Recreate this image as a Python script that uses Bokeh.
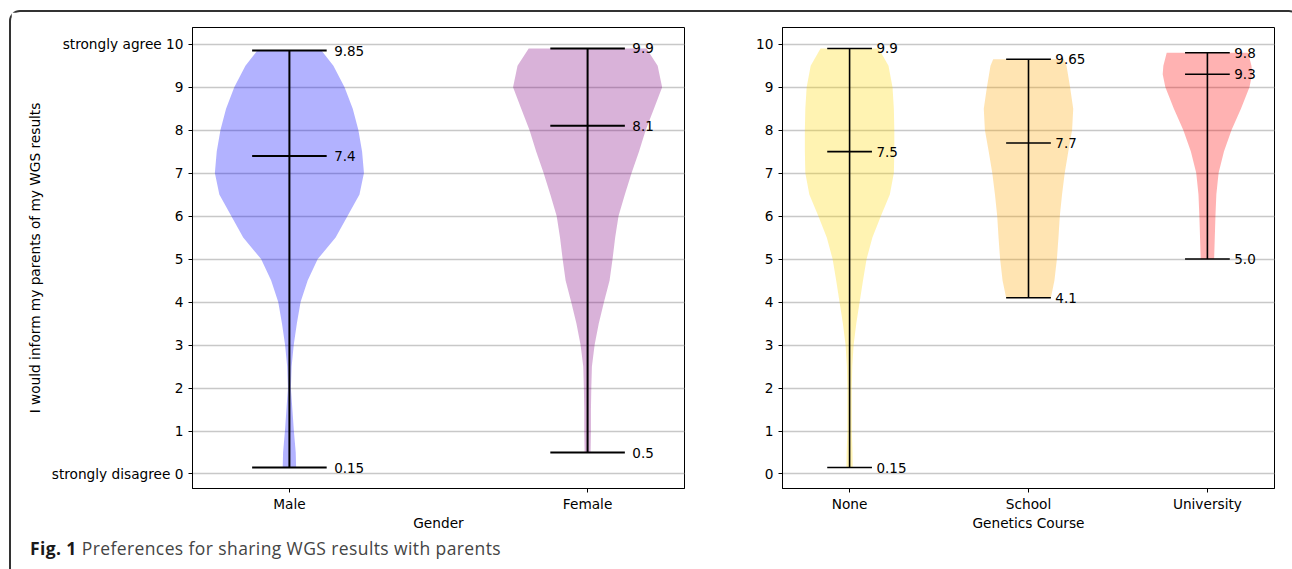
from bokeh.plotting import figure
from bokeh.models import FixedTicker, Range1d, Div
from bokeh.layouts import row, column
from bokeh.core.properties import value
from bokeh.embed import file_html
from bokeh.resources import INLINE

# ---------------- data ----------------
gender_groups = ["Male", "Female"]
gender_max = [9.85, 9.9]
gender_mid = [7.4, 8.1]
gender_min = [0.15, 0.5]
gender_colors = ["blue", "purple"]

course_groups = ["None", "School", "University"]
course_max = [9.9, 9.65, 9.8]
course_mid = [7.5, 7.7, 9.3]
course_min = [0.15, 4.1, 5.0]
course_colors = ["gold", "orange", "red"]

# violin density profiles (relative width, 1 = widest)
male_y = [0.15, 0.5, 1, 1.5, 2, 2.5, 3, 3.5, 4, 4.5, 5, 5.5, 6, 6.5, 7, 7.5, 8, 8.5, 9, 9.5, 9.85]
male_w = [0.09, 0.085, 0.06, 0.04, 0.02, 0.03, 0.058, 0.1, 0.15, 0.245, 0.38, 0.62, 0.78, 0.94, 1.0, 0.975, 0.925, 0.85, 0.74, 0.59, 0.43]
female_y = [0.5, 1, 1.5, 2, 2.5, 3, 3.5, 4, 4.5, 5, 5.5, 6, 6.5, 7, 7.5, 8, 8.5, 9, 9.5, 9.9]
female_w = [0.04, 0.045, 0.045, 0.05, 0.058, 0.094, 0.15, 0.22, 0.295, 0.335, 0.37, 0.415, 0.5, 0.59, 0.69, 0.78, 0.89, 1.0, 0.94, 0.79]
none_y = [0.15, 0.5, 1, 1.5, 2, 2.5, 3, 3.5, 4, 4.5, 5, 5.5, 6, 6.5, 7, 7.5, 8, 8.5, 9, 9.5, 9.9]
none_w = [0.07, 0.065, 0.05, 0.05, 0.05, 0.06, 0.09, 0.15, 0.225, 0.30, 0.38, 0.51, 0.70, 0.90, 0.99, 1.0, 1.0, 0.99, 0.96, 0.87, 0.65]
school_y = [4.1, 4.5, 5, 5.5, 6, 6.5, 7, 7.5, 8, 8.5, 9, 9.5, 9.65]
school_w = [0.5, 0.58, 0.635, 0.67, 0.70, 0.75, 0.81, 0.89, 0.975, 1.0, 0.93, 0.85, 0.79]
univ_y = [5, 5.5, 6, 6.5, 7, 7.5, 8, 8.5, 9, 9.3, 9.5, 9.8]
univ_w = [0.15, 0.165, 0.18, 0.2, 0.25, 0.37, 0.54, 0.75, 0.94, 1.0, 0.985, 0.91]

y_ticks = list(range(11))
y_label = "I would inform my parents of my WGS results"

# ---------------- styling ----------------
FONT = "DejaVu Sans"
FS = "13.7px"
HALF = 0.25      # max half-width of a violin (x units)
CAP = 0.125      # half-length of the caps
LABEL_DX = 0.15


def make_panel(groups, profiles_y, profiles_w, colors, vmax, vmid, vmin,
               xlabel, width, height, xr, borders, lw):
    p = figure(width=width, height=height, x_range=Range1d(*xr),
               y_range=Range1d(-0.3375, 10.3875), output_backend="svg",
               toolbar_location=None,
               min_border_left=borders[0], min_border_right=borders[1],
               min_border_top=borders[2], min_border_bottom=borders[3])
    p.background_fill_color = "white"
    p.border_fill_color = "white"
    p.outline_line_color = "black"
    p.outline_line_width = 1
    pos = list(range(1, len(groups) + 1))
    for i, (ys, ws, c) in enumerate(zip(profiles_y, profiles_w, colors)):
        cx = pos[i]
        xs = [cx - HALF * w for w in ws] + [cx + HALF * w for w in reversed(ws)]
        yy = list(ys) + list(reversed(ys))
        p.patch(xs, yy, fill_color=c, fill_alpha=0.3, line_color=None)
    # vertical bars and caps
    p.segment(x0=pos, x1=pos, y0=vmin, y1=vmax, line_color="black", line_width=lw)
    for vals in (vmax, vmid, vmin):
        p.segment(x0=[x - CAP for x in pos], x1=[x + CAP for x in pos],
                  y0=vals, y1=vals, line_color="black", line_width=lw)
        p.text(x=[x + LABEL_DX for x in pos], y=vals,
               text=[("%g" % v) if v != 5.0 else "5.0" for v in vals],
               text_baseline="middle", text_align="left",
               text_font=value(FONT), text_font_size="13.5px", text_color="black")
    # axes
    p.xaxis.ticker = FixedTicker(ticks=pos)
    p.xaxis.major_label_overrides = {x: g for x, g in zip(pos, groups)}
    p.yaxis.ticker = FixedTicker(ticks=y_ticks)
    for ax in (p.xaxis, p.yaxis):
        ax.major_tick_in = 0
        ax.major_tick_out = 4
        ax.minor_tick_line_color = None
        ax.major_tick_line_color = "black"
        ax.axis_line_color = "black"
        ax.major_label_text_font = FONT
        ax.major_label_text_font_size = FS
        ax.major_label_text_color = "black"
        ax.axis_label_text_font = FONT
        ax.axis_label_text_font_size = FS
        ax.axis_label_text_font_style = "normal"
        ax.axis_label_text_color = "black"
        ax.major_label_standoff = 5
    p.xaxis.major_label_standoff = 3
    p.xaxis.axis_label = xlabel
    p.xaxis.axis_label_standoff = 0
    p.xgrid.visible = False
    p.ygrid.grid_line_color = "#c8c8c8"
    p.ygrid.grid_line_width = 1.5
    return p


p1 = make_panel(gender_groups, [male_y, female_y], [male_w, female_w], gender_colors,
                gender_max, gender_mid, gender_min, "Gender",
                693, 526, (0.675, 2.325), (181, 20, 15, 50), 2)
p1.yaxis.major_label_overrides = {0: "strongly disagree 0", 10: "strongly agree 10"}
p1.yaxis.axis_label = y_label
p1.yaxis.axis_label_standoff = 6

p2 = make_panel(course_groups, [none_y, school_y, univ_y], [none_w, school_w, univ_w],
                course_colors, course_max, course_mid, course_min, "Genetics Course",
                584, 526, (0.625, 3.375), (78, 14, 15, 50), 1.6)

caption = Div(
    text='<div style="margin-left:14px; margin-top:-6px; font-family:\'Open Sans\'; font-size:17.5px; '
         'letter-spacing:0.4px; color:#444; line-height:22px; white-space:nowrap;">'
         '<b style="color:#1a1a1a">Fig. 1</b> Preferences for sharing WGS results with parents</div>',
    width=1277, height=30)

layout = column(row(p1, p2), caption,
                styles={"margin": "10px 0 0 9px",
                        "border-top": "2px solid #333", "border-left": "2px solid #333",
                        "border-right": "2px solid #333",
                        "border-radius": "11px 11px 0 0"})

open("out.html", "w").write(file_html(layout, INLINE))
